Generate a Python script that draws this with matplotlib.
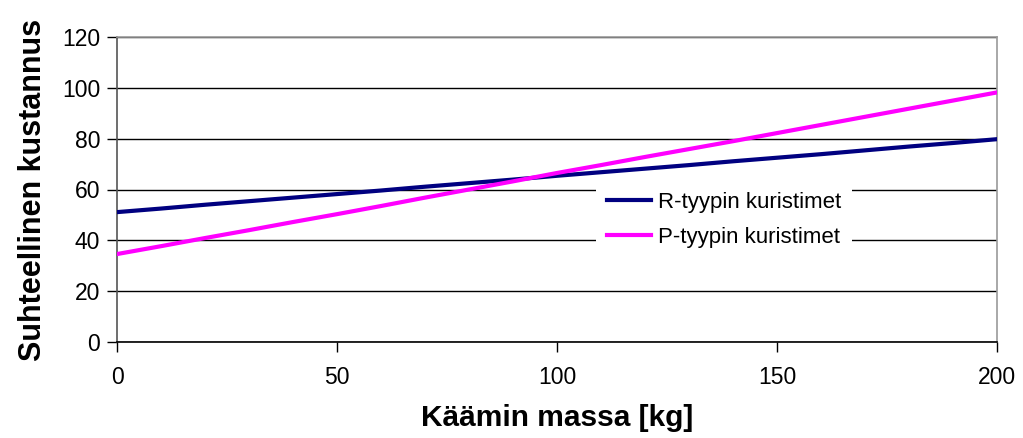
import matplotlib
matplotlib.use("Agg")
import matplotlib.pyplot as plt

plt.rcParams['font.family'] = ['Liberation Sans', 'DejaVu Sans']

# Winding mass [kg]
mass = [0, 10, 20, 30, 40, 50, 60, 70, 80, 90, 100,
        110, 120, 130, 140, 150, 160, 170, 180, 190, 200]
# Relative cost, R-type reactors
r_cost = [51.1, 52.5, 54.0, 55.4, 56.8, 58.2, 59.6, 61.1, 62.5, 63.9, 65.4,
          66.8, 68.2, 69.6, 71.1, 72.5, 73.9, 75.4, 76.9, 78.3, 79.8]
# Relative cost, P-type reactors
p_cost = [34.6, 37.7, 40.9, 44.0, 47.2, 50.3, 53.5, 56.8, 60.0, 63.2, 66.5,
          69.6, 72.8, 75.9, 79.0, 82.2, 85.4, 88.6, 91.8, 95.0, 98.2]

series_labels = ["R-tyypin kuristimet", "P-tyypin kuristimet"]
x_ticks = [0, 50, 100, 150, 200]
y_ticks = [0, 20, 40, 60, 80, 100, 120]

fig = plt.figure(figsize=(10.23, 4.38), dpi=100)
ax = fig.add_axes([117 / 1023, 1 - 342 / 438, 880 / 1023, 305 / 438])

ax.plot(mass, r_cost, color="#000080", lw=3.0, label=series_labels[0], zorder=3)
ax.plot(mass, p_cost, color="#FF00FF", lw=3.0, label=series_labels[1], zorder=3)

ax.set_xlim(0, 200)
ax.set_ylim(0, 120)
ax.set_xticks(x_ticks)
ax.set_yticks(y_ticks)
ax.yaxis.grid(True, color="black", lw=1.0)
ax.set_axisbelow(True)

ax.tick_params(axis="both", direction="out", length=7, width=1.0,
               labelsize=16.5, colors="black", pad=5)
ax.tick_params(axis="x", pad=10)

ax.spines["top"].set_color("#9a9a9a")
ax.spines["right"].set_color("#9a9a9a")
ax.spines["left"].set_color("#555555")
ax.spines["bottom"].set_color("black")
for s in ax.spines.values():
    s.set_linewidth(1.2)

ax.set_xlabel("Käämin massa [kg]", fontsize=21.5, fontweight="bold", labelpad=11)
ax.set_ylabel("Suhteellinen kustannus", fontsize=22, fontweight="bold", labelpad=10)

leg = ax.legend(loc="center", bbox_to_anchor=(0.69, 0.40), fontsize=16,
                frameon=True, fancybox=False, framealpha=1.0,
                handlelength=2.0, handletextpad=0.3, labelspacing=0.65,
                borderpad=0.5)
leg.get_frame().set_edgecolor("none")
leg.get_frame().set_facecolor("white")
leg.set_zorder(5)

fig.savefig("out.png", dpi=100)
